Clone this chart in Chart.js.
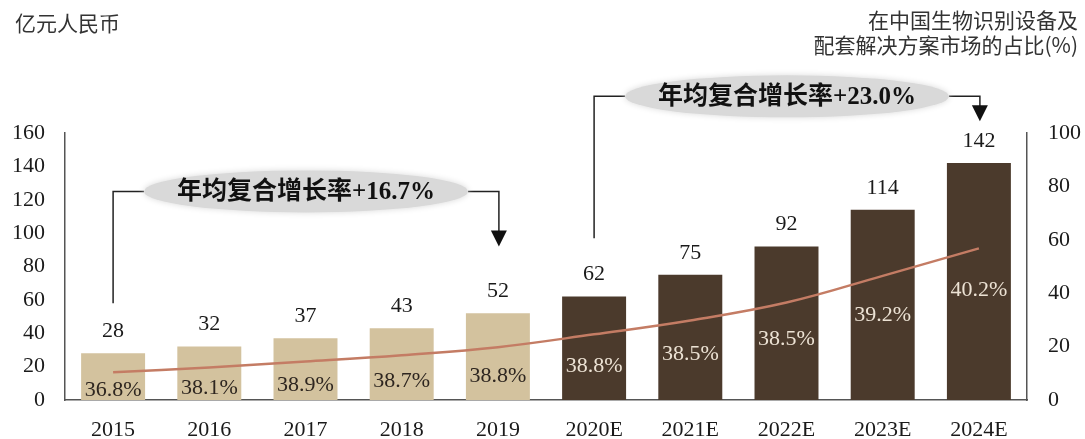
<!DOCTYPE html>
<html>
<head>
<meta charset="utf-8">
<script src="https://cdn.jsdelivr.net/npm/chart.js@4.4.0/dist/chart.umd.min.js"></script>
<style>
  html, body { margin: 0; padding: 0; background: #fff; }
  #wrap { position: relative; width: 1085px; height: 439px; }
  .note { position: absolute; font-family: "Noto Sans CJK SC", sans-serif; color: #333; font-size: 21px; }
  #unitLeft { left: 15px; top: 7px; }
  #unitRight { right: 7px; top: 7px; text-align: right; line-height: 25px; }
</style>
</head>
<body>
<div id="wrap">
  <canvas id="chart" width="1085" height="439"></canvas>
  <div class="note" id="unitLeft">亿元人民币</div>
  <div class="note" id="unitRight">在中国生物识别设备及<br>配套解决方案市场的占比(%)</div>
</div>
<script>
const years = ["2015", "2016", "2017", "2018", "2019", "2020E", "2021E", "2022E", "2023E", "2024E"];
const marketSize = [28, 32, 37, 43, 52, 62, 75, 92, 114, 142];
const shareText = ["36.8%", "38.1%", "38.9%", "38.7%", "38.8%", "38.8%", "38.5%", "38.5%", "39.2%", "40.2%"];
const shareLine = [10.4, 12.2, 14.4, 16.8, 19.8, 24.6, 29.8, 36.5, 46.5, 56.8];
const cagrText = ["年均复合增长率+16.7%", "年均复合增长率+23.0%"];
const cagrFrom = [0, 5];
const cagrTo = [4, 9];

const actualColor = "#d3c29e";
const forecastColor = "#4b3a2c";
const serif = "'Liberation Serif', 'Noto Sans CJK SC', serif";

const barColors = years.map(y => y.endsWith("E") ? forecastColor : actualColor);

// where the callouts sit, in left-axis units
const calloutLayout = [
  { y: 125, startBottom: 58, arrowTip: 92 },
  { y: 182, startBottom: 97, arrowTip: 167 }
];

const labelsPlugin = {
  id: "labels",
  afterDatasetsDraw(chart) {
    const ctx = chart.ctx;
    const yScale = chart.scales.y;
    const bars = chart.getDatasetMeta(0).data;
    const line = chart.getDatasetMeta(1).data;

    ctx.save();
    ctx.textAlign = "center";
    ctx.textBaseline = "middle";

    // values above the bars
    ctx.font = "22px " + serif;
    ctx.fillStyle = "#1a1a1a";
    bars.forEach((bar, i) => {
      ctx.fillText(String(marketSize[i]), bar.x, bar.y - 22);
    });

    // share labels inside the bars
    bars.forEach((bar, i) => {
      ctx.fillStyle = years[i].endsWith("E") ? "#ece2d4" : "#2e2620";
      ctx.fillText(shareText[i], bar.x, line[i].y + 18 + i * 2.7);
    });

    // CAGR callouts
    cagrText.forEach((text, k) => {
      const lay = calloutLayout[k];
      const x0 = bars[cagrFrom[k]].x;
      const x1 = bars[cagrTo[k]].x + 1;
      const cy = yScale.getPixelForValue(lay.y);
      const cx = (x0 + x1) / 2;
      const rx = 162, ry = 21;

      ctx.strokeStyle = "#222";
      ctx.lineWidth = 1.5;
      ctx.beginPath();
      ctx.moveTo(x0, yScale.getPixelForValue(lay.startBottom));
      ctx.lineTo(x0, cy);
      ctx.lineTo(cx - rx, cy);
      ctx.moveTo(cx + rx, cy);
      ctx.lineTo(x1, cy);
      const tip = yScale.getPixelForValue(lay.arrowTip);
      ctx.lineTo(x1, tip - 14);
      ctx.stroke();

      ctx.fillStyle = "#111";
      ctx.beginPath();
      ctx.moveTo(x1 - 8, tip - 16);
      ctx.lineTo(x1 + 8, tip - 16);
      ctx.lineTo(x1, tip);
      ctx.closePath();
      ctx.fill();

      ctx.save();
      ctx.fillStyle = "#d9d9d9";
      ctx.shadowColor = "#d9d9d9";
      ctx.shadowBlur = 6;
      ctx.beginPath();
      ctx.ellipse(cx, cy, rx, ry, 0, 0, Math.PI * 2);
      ctx.fill();
      ctx.restore();

      ctx.fillStyle = "#111";
      ctx.font = "bold 25px " + serif;
      ctx.fillText(text, cx, cy + 1);
    });

    ctx.restore();
  }
};

new Chart(document.getElementById("chart"), {
  data: {
    labels: years,
    datasets: [
      {
        type: "bar",
        data: marketSize,
        backgroundColor: barColors,
        yAxisID: "y",
        categoryPercentage: 1,
        barPercentage: 0.665,
        order: 2
      },
      {
        type: "line",
        data: shareLine,
        borderColor: "#c47c64",
        borderWidth: 2.5,
        pointRadius: 0,
        tension: 0.4,
        yAxisID: "y1",
        order: 1
      }
    ]
  },
  options: {
    responsive: false,
    animation: false,
    layout: { padding: { top: 133, left: 0, right: 0, bottom: 0 } },
    plugins: { legend: { display: false }, tooltip: { enabled: false } },
    scales: {
      x: {
        grid: { display: false, drawTicks: false },
        border: { display: true, color: "#555", width: 1.5 },
        ticks: { font: { family: serif, size: 22 }, color: "#1a1a1a", padding: 17 },
        afterFit(scale) { scale.height = 39; }
      },
      y: {
        position: "left",
        min: 0,
        max: 160,
        grid: { display: false, drawTicks: false },
        border: { display: true, color: "#555", width: 1.5 },
        ticks: { stepSize: 20, font: { family: serif, size: 22 }, color: "#1a1a1a", padding: 20 },
        afterFit(scale) { scale.width = 65; }
      },
      y1: {
        position: "right",
        min: 0,
        max: 100,
        grid: { display: false, drawTicks: false },
        border: { display: true, color: "#555", width: 1.5 },
        ticks: { stepSize: 20, font: { family: serif, size: 22 }, color: "#1a1a1a", padding: 21 },
        afterFit(scale) { scale.width = 58; }
      }
    }
  },
  plugins: [labelsPlugin]
});
</script>
</body>
</html>
